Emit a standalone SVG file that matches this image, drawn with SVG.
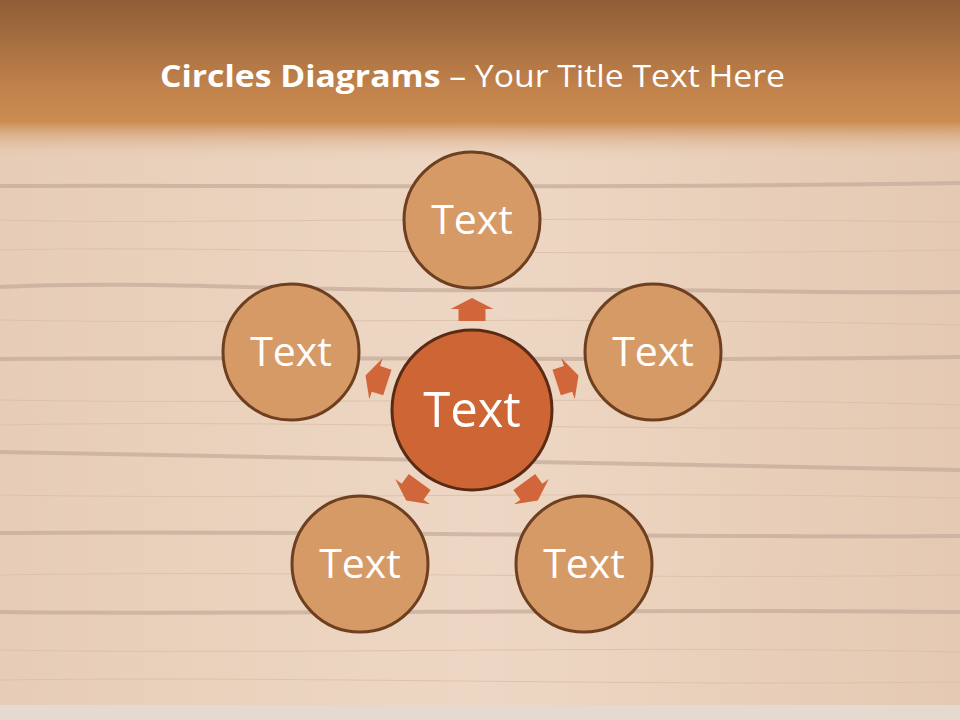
<svg xmlns="http://www.w3.org/2000/svg" width="960" height="720" viewBox="0 0 960 720">
<defs>
<linearGradient id="band" x1="0" y1="0" x2="0" y2="1">
<stop offset="0" stop-color="#8E5D37"/>
<stop offset="0.55" stop-color="#C2824B"/>
<stop offset="0.76" stop-color="#CB8C52"/>
<stop offset="1" stop-color="#E8CDB7" stop-opacity="0"/>
</linearGradient>
<linearGradient id="wood" x1="0" y1="0" x2="1" y2="0">
<stop offset="0" stop-color="#E7CDB7"/>
<stop offset="0.5" stop-color="#EDD7C4"/>
<stop offset="1" stop-color="#E5C9B2"/>
</linearGradient>
<style>
.outer{fill:#D69A67;stroke:#6E4020;stroke-width:3}
.center{fill:#CD6634;stroke:#5A2A14;stroke-width:3}
.lbl{font-family:"Open Sans","Liberation Sans",sans-serif;fill:#FFFFFF;text-anchor:middle}
.arrow{fill:#D0663A}
.gap{stroke:#C5AC9C;stroke-width:4;fill:none;opacity:0.75}
.grain{stroke:#D9BEA8;stroke-width:1;fill:none;opacity:0.8}
</style>
</defs>
<g id="background">
<rect x="0" y="0" width="960" height="720" fill="url(#wood)"/>
<path class="gap" d="M0 186 C200 184 500 190 960 183"/>
<path class="gap" d="M0 287 C150 280 300 292 480 290 C700 288 820 294 960 292"/>
<path class="gap" d="M0 359 C300 356 600 362 960 357"/>
<path class="gap" d="M0 452 C250 458 500 462 960 470"/>
<path class="gap" d="M0 533 C300 530 600 538 960 536"/>
<path class="gap" d="M0 612 C300 615 600 608 960 612"/>
<path class="grain" d="M0 220 C200 225 400 215 960 222"/>
<path class="grain" d="M0 250 C220 245 420 258 960 250"/>
<path class="grain" d="M0 320 C250 325 500 315 960 325"/>
<path class="grain" d="M0 400 C300 405 600 395 960 405"/>
<path class="grain" d="M0 425 C250 420 550 430 960 428"/>
<path class="grain" d="M0 495 C300 500 600 490 960 498"/>
<path class="grain" d="M0 575 C300 570 600 580 960 575"/>
<path class="grain" d="M0 650 C300 655 600 645 960 652"/>
<path class="grain" d="M0 680 C300 676 600 686 960 682"/>
<rect x="0" y="0" width="960" height="160" fill="url(#band)"/>
<rect x="0" y="705" width="960" height="15" fill="#E4DAD0"/>
</g>
<g id="title">
<text x="160" y="87" font-family="'Open Sans','Liberation Sans',sans-serif" font-size="31" fill="#FFFFFF" textLength="625" lengthAdjust="spacingAndGlyphs"><tspan font-weight="bold">Circles Diagrams</tspan> – Your Title Text Here</text>
</g>
<g id="connectors">
<polygon class="arrow" points="-13.5,-89 -13.5,-101 -21.5,-101 0,-112 21.5,-101 13.5,-101 13.5,-89" transform="translate(472,410)"/>
<polygon class="arrow" points="-13.5,-89 -13.5,-101 -21.5,-101 0,-112 21.5,-101 13.5,-101 13.5,-89" transform="translate(472,410) rotate(72)"/>
<polygon class="arrow" points="-13.5,-89 -13.5,-101 -21.5,-101 0,-112 21.5,-101 13.5,-101 13.5,-89" transform="translate(472,410) rotate(144)"/>
<polygon class="arrow" points="-13.5,-89 -13.5,-101 -21.5,-101 0,-112 21.5,-101 13.5,-101 13.5,-89" transform="translate(472,410) rotate(216)"/>
<polygon class="arrow" points="-13.5,-89 -13.5,-101 -21.5,-101 0,-112 21.5,-101 13.5,-101 13.5,-89" transform="translate(472,410) rotate(288)"/>
</g>
<g id="node-center">
<circle class="center" cx="472" cy="410" r="80"/>
<text class="lbl" x="472" y="427" font-size="49">Text</text>
</g>
<g id="node-top">
<circle class="outer" cx="472" cy="220" r="68"/>
<text class="lbl" x="472" y="234" font-size="41">Text</text>
</g>
<g id="node-right">
<circle class="outer" cx="653" cy="352" r="68"/>
<text class="lbl" x="653" y="366" font-size="41">Text</text>
</g>
<g id="node-left">
<circle class="outer" cx="291" cy="352" r="68"/>
<text class="lbl" x="291" y="366" font-size="41">Text</text>
</g>
<g id="node-bottom-right">
<circle class="outer" cx="584" cy="564" r="68"/>
<text class="lbl" x="584" y="578" font-size="41">Text</text>
</g>
<g id="node-bottom-left">
<circle class="outer" cx="360" cy="564" r="68"/>
<text class="lbl" x="360" y="578" font-size="41">Text</text>
</g>
</svg>
